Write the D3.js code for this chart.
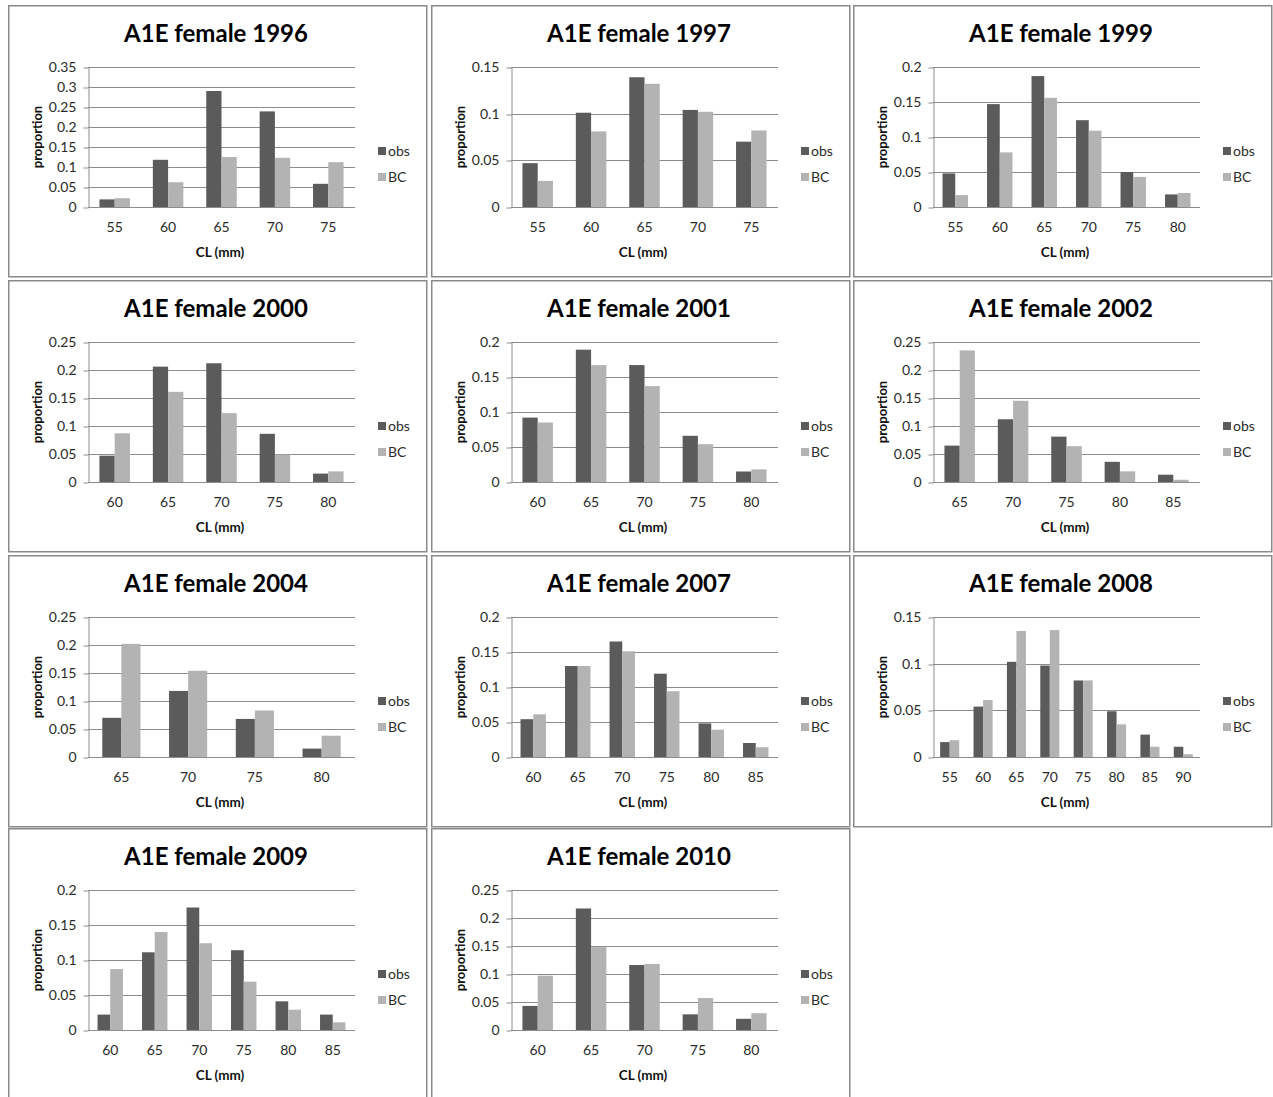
<!DOCTYPE html>
<html>
<head>
<meta charset="utf-8">
<script src="https://cdnjs.cloudflare.com/ajax/libs/d3/7.8.5/d3.min.js"></script>
<style>
  body { margin: 0; background: #fff; }
  text { font-family: Lato, "Open Sans", sans-serif; }
</style>
</head>
<body>
<script>
const canvasSizeX = 1273;
const canvasSizeY = 1097;

// one entry per panel
const years = [1996, 1997, 1999, 2000, 2001, 2002, 2004, 2007, 2008, 2009, 2010];

const lengthClasses = [
    [55, 60, 65, 70, 75],
    [55, 60, 65, 70, 75],
    [55, 60, 65, 70, 75, 80],
    [60, 65, 70, 75, 80],
    [60, 65, 70, 75, 80],
    [65, 70, 75, 80, 85],
    [65, 70, 75, 80],
    [60, 65, 70, 75, 80, 85],
    [55, 60, 65, 70, 75, 80, 85, 90],
    [60, 65, 70, 75, 80, 85],
    [60, 65, 70, 75, 80]
];

const obsValues = [
    [0.019, 0.118, 0.290, 0.239, 0.058],
    [0.047, 0.101, 0.139, 0.104, 0.070],
    [0.048, 0.147, 0.187, 0.124, 0.050, 0.018],
    [0.047, 0.206, 0.212, 0.086, 0.015],
    [0.092, 0.189, 0.167, 0.066, 0.015],
    [0.065, 0.112, 0.081, 0.036, 0.013],
    [0.070, 0.118, 0.068, 0.015],
    [0.054, 0.130, 0.165, 0.119, 0.048, 0.020],
    [0.016, 0.054, 0.102, 0.098, 0.082, 0.049, 0.024, 0.011],
    [0.022, 0.111, 0.175, 0.114, 0.041, 0.022],
    [0.043, 0.217, 0.116, 0.028, 0.020]
];

const bcValues = [
    [0.022, 0.062, 0.125, 0.123, 0.112],
    [0.028, 0.081, 0.132, 0.102, 0.082],
    [0.017, 0.078, 0.156, 0.109, 0.043, 0.020],
    [0.087, 0.161, 0.123, 0.049, 0.019],
    [0.085, 0.167, 0.137, 0.054, 0.018],
    [0.235, 0.145, 0.064, 0.019, 0.004],
    [0.202, 0.154, 0.083, 0.038],
    [0.061, 0.130, 0.151, 0.094, 0.039, 0.014],
    [0.018, 0.061, 0.135, 0.136, 0.082, 0.035, 0.011, 0.003],
    [0.087, 0.140, 0.124, 0.069, 0.029, 0.011],
    [0.097, 0.148, 0.118, 0.057, 0.030]
];

const yMaxes = [0.35, 0.15, 0.2, 0.25, 0.2, 0.25, 0.25, 0.2, 0.15, 0.2, 0.25];
const yStep = 0.05;

const seriesNames = ["obs", "BC"];
const seriesColors = ["#5b5b5b", "#b3b3b3"];

// panel grid
const panelX = [8, 431, 853];
const panelY = [5, 280, 555, 828];
const panelW = 418;
const panelH = 271;

// plot area inside a panel
const plotLeft = 80;
const plotRight = 347;
const plotTop = 62;
const plotBottom = 202;

let canvas = d3.select("body")
    .append("svg")
    .attr("width", canvasSizeX)
    .attr("height", canvasSizeY);

const fmt = d3.format("~g");

const drawPanel = (i) => {
    let ox = panelX[i % 3];
    let oy = panelY[Math.floor(i / 3)];
    let g = canvas.append("g").attr("transform", `translate(${ox},${oy})`);

    g.append("rect")
        .attr("x", 0.75)
        .attr("y", 0.75)
        .attr("width", panelW)
        .attr("height", panelH)
        .attr("fill", "#fff")
        .attr("stroke", "#8a8a8a")
        .attr("stroke-width", 1.5);

    g.append("text")
        .attr("x", 208)
        .attr("y", 37)
        .attr("text-anchor", "middle")
        .attr("font-size", 24)
        .attr("font-weight", "bold")
        .attr("fill", "#000")
        .text("A1E female " + years[i]);

    let x = d3.scaleBand()
        .domain(lengthClasses[i])
        .range([plotLeft, plotRight])
        .paddingInner(1.5 / 3.5)
        .paddingOuter(0.75 / 3.5);

    let xs = d3.scaleBand()
        .domain(seriesNames)
        .range([0, x.bandwidth()]);

    let y = d3.scaleLinear()
        .domain([0, yMaxes[i]])
        .range([plotBottom, plotTop]);

    let ticks = d3.range(0, yMaxes[i] + 1e-9, yStep);

    // horizontal gridlines (the one at 0 doubles as the category axis)
    g.selectAll(".grid")
        .data(ticks)
        .enter()
        .append("line")
        .attr("x1", plotLeft)
        .attr("x2", plotRight)
        .attr("y1", d => Math.round(y(d)) + 0.5)
        .attr("y2", d => Math.round(y(d)) + 0.5)
        .attr("stroke", "#8c8c8c")
        .attr("stroke-width", 1);

    // y axis
    let yAxis = g.append("g")
        .attr("transform", `translate(${plotLeft + 0.5},0)`)
        .call(d3.axisLeft(y).tickValues(ticks).tickFormat(fmt).tickSize(5).tickSizeOuter(0).tickPadding(7));
    yAxis.select(".domain").attr("stroke", "#8c8c8c");
    yAxis.selectAll(".tick line").attr("stroke", "#8c8c8c")
        .attr("transform", d => `translate(0,${Math.round(y(d)) + 0.5 - y(d)})`);
    yAxis.selectAll("text")
        .attr("font-size", 14)
        .attr("font-family", "Lato, sans-serif")
        .attr("fill", "#2b2b2b");

    // x axis labels
    let xAxis = g.append("g")
        .attr("transform", `translate(0,${plotBottom})`)
        .call(d3.axisBottom(x).tickSize(0).tickPadding(15));
    xAxis.select(".domain").remove();
    xAxis.selectAll("text")
        .attr("font-size", 14)
        .attr("font-family", "Lato, sans-serif")
        .attr("fill", "#2b2b2b");

    // bars
    let groups = g.selectAll(".cat")
        .data(lengthClasses[i].map((c, j) => ({ c: c, vals: [obsValues[i][j], bcValues[i][j]] })))
        .enter()
        .append("g")
        .attr("transform", d => `translate(${x(d.c)},0)`);

    groups.selectAll("rect")
        .data(d => d.vals.map((v, k) => ({ s: seriesNames[k], v: v, k: k })))
        .enter()
        .append("rect")
        .attr("x", d => xs(d.s))
        .attr("width", xs.bandwidth())
        .attr("y", d => y(d.v))
        .attr("height", d => y(0) - y(d.v))
        .attr("fill", d => seriesColors[d.k]);

    // axis titles
    g.append("text")
        .attr("x", 212)
        .attr("y", 252)
        .attr("text-anchor", "middle")
        .attr("font-size", 13.5)
        .attr("font-weight", "bold")
        .attr("fill", "#111")
        .text("CL (mm)");

    g.append("text")
        .attr("transform", `translate(34,132) rotate(-90)`)
        .attr("text-anchor", "middle")
        .attr("font-size", 13)
        .attr("font-weight", "bold")
        .attr("fill", "#111")
        .text("proportion");

    // legend
    seriesNames.forEach((name, k) => {
        let ly = 146 + k * 26;
        g.append("rect")
            .attr("x", 370)
            .attr("y", ly - 4)
            .attr("width", 8)
            .attr("height", 8)
            .attr("fill", seriesColors[k]);
        g.append("text")
            .attr("x", 380)
            .attr("y", ly)
            .attr("dy", "0.35em")
            .attr("font-size", 14)
            .attr("fill", "#2b2b2b")
            .text(name);
    });
}

const main = () => {
    for (let i = 0; i < years.length; i++) {
        drawPanel(i);
    }
}

window.addEventListener("load", main);
</script>
</body>
</html>
